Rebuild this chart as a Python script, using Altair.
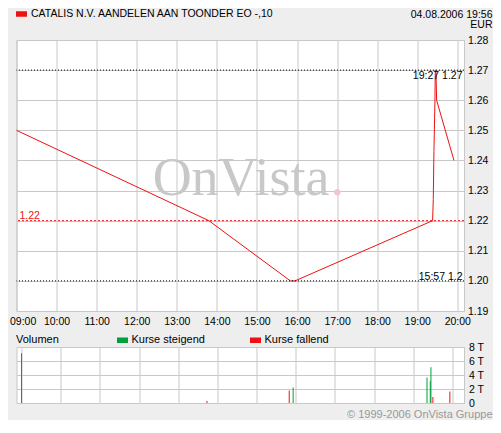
import altair as alt
import pandas as pd

DAY = "2006-08-04"
SERIES = "CATALIS N.V. AANDELEN AAN TOONDER EO -,10"
STAMP = ["04.08.2006 19:56", "EUR"]
COPYRIGHT = "© 1999-2006 OnVista Gruppe"

# price path (time, EUR)
price_times = ["09:00", "13:48", "15:50", "15:57", "19:23", "19:24", "19:25",
               "19:26:30", "19:27", "19:28", "19:29", "19:55"]
price_values = [1.25, 1.22, 1.20, 1.20, 1.22, 1.227, 1.243,
                1.26, 1.27, 1.27, 1.26, 1.24]

prev_close = [1.22]
high_value = [1.27]
high_label = ["19:27 1.27"]
low_value = [1.20]
low_label = ["15:57 1.2"]

# volume (thousands)
vol_times = ["09:00", "13:44", "15:50", "15:56", "19:21", "19:26", "19:27", "19:30", "19:56"]
vol_values = [7.1, 0.3, 1.8, 2.2, 3.65, 3.1, 5.1, 0.85, 1.65]
vol_dirs = ["Kurse steigend", "Kurse fallend", "Kurse fallend", "Kurse steigend",
            "Kurse steigend", "Kurse steigend", "Kurse steigend", "Kurse fallend",
            "Kurse fallend"]
vol_domain = ["Kurse steigend", "Kurse fallend"]

y_ticks = [1.19, 1.20, 1.21, 1.22, 1.23, 1.24, 1.25, 1.26, 1.27, 1.28]
vol_ticks = [0, 2, 4, 6, 8]
hour_ticks = list(range(9, 21))

RED = "#ee1111"
GREEN = "#00a03c"
GRID = "#c8c8c8"
BG = "#eeeeee"
RECT = "M-1,-0.5H1V0.5H-1Z"

W = 447.5
H_MAIN = 271
H_VOL = 56


def ts(t):
    return f"{DAY}T{t}"


price_df = pd.DataFrame({"time": [ts(t) for t in price_times],
                         "price": price_values,
                         "name": [SERIES] * len(price_times)})
pc_df = pd.DataFrame({"price": prev_close})
hi_df = pd.DataFrame({"price": high_value, "label": high_label})
lo_df = pd.DataFrame({"price": low_value, "label": low_label})
ext_df = pd.DataFrame({"price": high_value + low_value})
vol_df = pd.DataFrame({"time": [ts(t) for t in vol_times],
                       "vol": vol_values, "dir": vol_dirs})

x_scale = alt.Scale(domain=[alt.DateTime(year=2006, month=8, date=4, hours=9),
                            alt.DateTime(year=2006, month=8, date=4, hours=20, minutes=10)],
                    nice=False)
hour_values = [alt.DateTime(year=2006, month=8, date=4, hours=h) for h in hour_ticks]
y_scale = alt.Scale(domain=[1.19, 1.28], nice=False, zero=False)

x_axis_main = alt.Axis(values=hour_values, format="%H:%M", title=None, grid=True,
                       labelPadding=5, labelFlush=True, labelFlushOffset=7,
                       labelOverlap=False)
y_axis_main = alt.Axis(orient="right", values=y_ticks, format=".2f", grid=True,
                       labelPadding=3.5, labelOverlap=False, labelSeparation=0,
                       labelBound=False, tickCount=10,
                       title=STAMP, titleAngle=0, titleAlign="right",
                       titleBaseline="top", titleX=28, titleY=-31,
                       titleFontSize=10.5, titleFontWeight="normal", titleColor="black",
                       titleLineHeight=10.6)

main_legend = alt.Legend(title=None, orient="none", legendX=-0.5, legendY=-31.5,
                         direction="horizontal", symbolType=RECT, symbolSize=121,
                         symbolStrokeWidth=0, symbolFillColor=RED, symbolStrokeColor=RED,
                         labelFontSize=10.5, labelOffset=4, labelLimit=0, padding=0,
                         labelColor="black")

y_enc = alt.Y("price:Q", scale=y_scale, axis=y_axis_main)

watermark = alt.Chart(pd.DataFrame({"k": [0]})).mark_text(
    text="OnVista", font="Liberation Serif", fontSize=54, color="#c8c8c8",
    align="center", baseline="alphabetic"
).encode(x=alt.value(224.5), y=alt.value(155))
wm_dot = alt.Chart(pd.DataFrame({"k": [0]})).mark_text(
    text=".", font="Liberation Serif", fontSize=54, color="#f2c6cc",
    align="left", baseline="alphabetic"
).encode(x=alt.value(314), y=alt.value(154.5))

ext_rules = alt.Chart(ext_df).mark_rule(color="black", strokeDash=[1, 2], strokeWidth=1).encode(
    y=y_enc)
pc_rule = alt.Chart(pc_df).mark_rule(color=RED, strokeDash=[2, 2], strokeWidth=1).encode(
    y=y_enc)

line = alt.Chart(price_df).mark_line(strokeWidth=1).encode(
    x=alt.X("time:T", scale=x_scale, axis=x_axis_main),
    y=y_enc,
    color=alt.Color("name:N", scale=alt.Scale(domain=[SERIES], range=[RED]), legend=main_legend),
)

pc_text = alt.Chart(pc_df).mark_text(align="left", baseline="alphabetic", dy=-1.5,
                                     color=RED, fontSize=10.5).encode(
    x=alt.value(3), y=y_enc, text=alt.Text("price:Q", format=".2f"))
hi_text = alt.Chart(hi_df).mark_text(align="right", baseline="alphabetic", dy=8.6,
                                     color="black", fontSize=10.5).encode(
    x=alt.value(W - 1.5), y=y_enc, text="label:N")
lo_text = alt.Chart(lo_df).mark_text(align="right", baseline="alphabetic", dy=-1,
                                     color="black", fontSize=10.5).encode(
    x=alt.value(W - 1.5), y=y_enc, text="label:N")

main = alt.layer(line, watermark, wm_dot, ext_rules, pc_rule, pc_text, hi_text, lo_text
                 ).properties(width=W, height=H_MAIN)

vol_legend = alt.Legend(title="Volumen", titleOrient="left", titlePadding=58,
                        titleFontSize=11, titleFontWeight="normal", titleColor="black",
                        orient="none", legendX=-0.5, legendY=-12.5, direction="horizontal",
                        columnPadding=45, symbolType=RECT, symbolSize=121,
                        symbolStrokeWidth=0, labelFontSize=11, labelOffset=3.5,
                        padding=0, labelColor="black", labelLimit=0)

vol = alt.Chart(vol_df).mark_bar(width=1).encode(
    x=alt.X("time:T", scale=x_scale,
            axis=alt.Axis(values=hour_values, labels=False, grid=True,
                          title=COPYRIGHT, titleX=475.5, titleY=11, titleAlign="right",
                          titleBaseline="middle", titleColor="#999999",
                          titleFontSize=11, titleFontWeight="normal")),
    y=alt.Y("vol:Q", scale=alt.Scale(domain=[0, 8], nice=False),
            axis=alt.Axis(orient="right", values=vol_ticks, grid=True, labelPadding=4.5,
                          labelOverlap=False,
                          labelExpr="datum.value == 0 ? '0' : datum.value + ' T'",
                          title=None)),
    color=alt.Color("dir:N", scale=alt.Scale(domain=vol_domain, range=[GREEN, RED]),
                    legend=vol_legend),
).properties(width=W, height=H_VOL)

chart = alt.vconcat(main, vol, spacing=36, bounds="flush").resolve_scale(
    color="independent", x="independent", y="independent"
).resolve_legend(color="independent").configure(
    background=BG,
    padding={"left": 0.5, "top": 0, "right": 0, "bottom": 0},
    font="Liberation Sans",
).configure_view(
    fill="white", stroke=GRID, strokeWidth=1
).configure_axis(
    gridColor=GRID, gridWidth=1, labelColor="black", labelFontSize=10.5,
    labelFont="Liberation Sans", domain=False, ticks=False, labelOverlap=False,
)

chart.save("out.html", embed_options={"renderer": "svg", "actions": False})
